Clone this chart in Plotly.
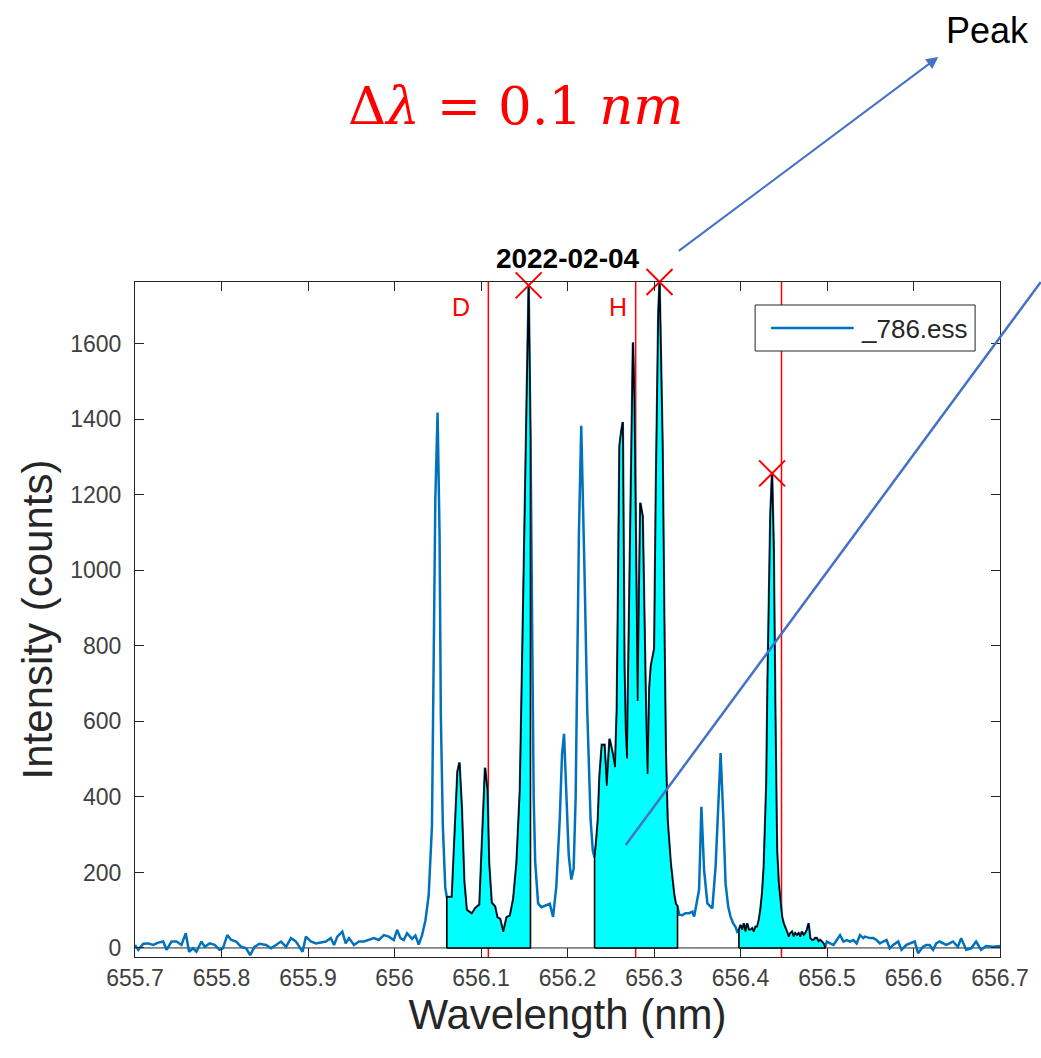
import plotly.graph_objects as go

# ---------------- data ----------------
wavelength = [
    655.7000, 655.7038, 655.7096, 655.7153, 655.7211, 655.7268, 655.7326, 655.7365, 655.7422, 655.7480,
    655.7537, 655.7587, 655.7625, 655.7671, 655.7710, 655.7768, 655.7806, 655.7863, 655.7921, 655.7978,
    655.8016, 655.8067, 655.8113, 655.8170, 655.8228, 655.8285, 655.8331, 655.8381, 655.8438, 655.8516,
    655.8573, 655.8631, 655.8688, 655.8746, 655.8803, 655.8861, 655.8899, 655.8937, 655.8976, 655.9033,
    655.9091, 655.9148, 655.9206, 655.9264, 655.9301, 655.9339, 655.9397, 655.9436, 655.9474, 655.9532,
    655.9589, 655.9647, 655.9704, 655.9762, 655.9819, 655.9877, 655.9934, 655.9992, 656.0030, 656.0069,
    656.0107, 656.0145, 656.0203, 656.0242, 656.0280, 656.0318, 656.0357, 656.0395, 656.0433, 656.0452,
    656.0472, 656.0498, 656.0521, 656.0536, 656.0559, 656.0587, 656.0605, 656.0663, 656.0702, 656.0728,
    656.0751, 656.0778, 656.0806, 656.0835, 656.0893, 656.0936, 656.0982, 656.1008, 656.1047, 656.1074,
    656.1093, 656.1123, 656.1162, 656.1189, 656.1220, 656.1258, 656.1296, 656.1335, 656.1373, 656.1411,
    656.1450, 656.1480, 656.1507, 656.1534, 656.1551, 656.1572, 656.1591, 656.1609, 656.1626, 656.1660,
    656.1698, 656.1738, 656.1795, 656.1833, 656.1871, 656.1910, 656.1937, 656.1960, 656.1986, 656.2014,
    656.2044, 656.2071, 656.2094, 656.2113, 656.2132, 656.2159, 656.2178, 656.2198, 656.2228, 656.2267,
    656.2293, 656.2313, 656.2331, 656.2351, 656.2370, 656.2397, 656.2428, 656.2454, 656.2486, 656.2504,
    656.2524, 656.2550, 656.2570, 656.2581, 656.2601, 656.2619, 656.2639, 656.2658, 656.2673, 656.2688,
    656.2702, 656.2716, 656.2742, 656.2757, 656.2773, 656.2792, 656.2811, 656.2826, 656.2842, 656.2869,
    656.2888, 656.2907, 656.2926, 656.2946, 656.2964, 656.2984, 656.3003, 656.3022, 656.3050, 656.3064,
    656.3082, 656.3099, 656.3119, 656.3137, 656.3157, 656.3194, 656.3234, 656.3252, 656.3272, 656.3291,
    656.3329, 656.3364, 656.3406, 656.3444, 656.3464, 656.3490, 656.3521, 656.3548, 656.3579, 656.3617,
    656.3651, 656.3674, 656.3712, 656.3743, 656.3770, 656.3801, 656.3827, 656.3858, 656.3885, 656.3916,
    656.3942, 656.3962, 656.3982, 656.4000, 656.4020, 656.4039, 656.4058, 656.4077, 656.4097, 656.4115,
    656.4135, 656.4154, 656.4173, 656.4192, 656.4212, 656.4230, 656.4250, 656.4269, 656.4284, 656.4299,
    656.4313, 656.4327, 656.4345, 656.4365, 656.4384, 656.4403, 656.4422, 656.4442, 656.4460, 656.4480,
    656.4499, 656.4518, 656.4537, 656.4557, 656.4575, 656.4595, 656.4614, 656.4633, 656.4652, 656.4672,
    656.4690, 656.4710, 656.4730, 656.4748, 656.4768, 656.4787, 656.4806, 656.4825, 656.4845, 656.4863,
    656.4883, 656.4902, 656.4921, 656.4940, 656.4960, 656.4978, 656.4998, 656.5036, 656.5075, 656.5113,
    656.5151, 656.5190, 656.5228, 656.5266, 656.5305, 656.5343, 656.5381, 656.5420, 656.5438, 656.5496,
    656.5535, 656.5573, 656.5611, 656.5650, 656.5688, 656.5726, 656.5765, 656.5823, 656.5861, 656.5918,
    656.5956, 656.6014, 656.6053, 656.6110, 656.6148, 656.6186, 656.6226, 656.6263, 656.6301, 656.6341,
    656.6379, 656.6417, 656.6456, 656.6513, 656.6551, 656.6609, 656.6666, 656.6724, 656.6781, 656.6839,
    656.6916, 656.7000,
]
intensity = [
    8, -5, 11, 12, 8, 14, 17, -5, 17, 17,
    8, 39, -10, -1, -10, 17, 3, 12, 8, -5,
    -1, 34, 21, 17, 3, -1, -19, 3, 11, 8,
    -1, 8, 17, 3, 26, 17, 3, -10, 30, 17,
    12, 14, 17, 26, 8, 30, 43, 12, 26, 8,
    17, 17, 21, 26, 21, 34, 30, 21, 48, 26,
    21, 39, 24, 33, 9, 33, 72, 139, 322, 707,
    1189, 1418, 1093, 612, 323, 159, 135, 135, 323, 467,
    491, 371, 177, 101, 91, 106, 115, 274, 477, 419,
    226, 120, 110, 81, 77, 43, 81, 86, 130, 226,
    419, 804, 1189, 1478, 1755, 1350, 800, 400, 230, 118,
    108, 111, 117, 82, 164, 339, 514, 567, 397, 246,
    181, 210, 397, 747, 1097, 1383, 1213, 980, 630, 339,
    257, 240, 281, 339, 456, 538, 538, 430, 554, 538,
    514, 479, 630, 863, 1330, 1364, 1393, 747, 572, 502,
    747, 980, 1446, 1604, 1446, 1097, 654, 922, 1179, 1143,
    863, 630, 461, 689, 747, 771, 793, 1213, 1679, 1764,
    1563, 1330, 863, 514, 339, 223, 140, 117, 110, 88,
    87, 92, 92, 96, 83, 118, 154, 374, 207, 118,
    110, 105, 215, 392, 516, 348, 171, 109, 83, 65,
    56, 43, 48, 61, 48, 65, 43, 65, 48, 48,
    52, 43, 56, 56, 74, 101, 145, 215, 330, 436,
    701, 878, 1143, 1257, 1054, 613, 260, 171, 127, 83,
    65, 56, 43, 30, 39, 43, 30, 39, 34, 39,
    30, 43, 34, 39, 48, 65, 26, 21, 21, 26,
    26, 17, 21, 17, 12, 3, 17, 12, 8, 21,
    34, 17, 21, 17, 21, 12, 34, 26, 30, 26,
    26, 21, 12, 17, 21, -1, 8, 17, -5, 8,
    12, 17, -14, 3, 8, 8, -5, 12, 17, 12,
    8, 12, 17, 3, 26, -5, -1, 17, -5, 5,
    3, 5,
]

series_name = "_786.ess"
chart_title = "2022-02-04"

fill_start = [656.0605, 656.2313, 656.3982]
fill_end = [656.1572, 656.3272, 656.4978]

ref_lines = [656.1085, 656.2788, 656.4474]
ref_labels = ["D", "H"]
ref_label_x = [656.0763, 656.2581]
ref_label_y = 1698

x_ticks = [655.7, 655.8, 655.9, 656.0, 656.1, 656.2, 656.3, 656.4, 656.5, 656.6, 656.7]
x_ticktext = ["655.7", "655.8", "655.9", "656", "656.1", "656.2", "656.3", "656.4", "656.5", "656.6", "656.7"]
y_ticks = [0, 200, 400, 600, 800, 1000, 1200, 1400, 1600]

x_range = [655.7, 656.7]
y_range = [-24, 1764]

# ---------------- figure ----------------
AX = "#262626"
BLUE = "#0072BD"
L, T, PW, PH = 135, 282, 869, 675   # plot area in pixels


def px(x):
    return (x - L) / PW


def py(y):
    return (T + PH - y) / PH


fig = go.Figure()

# main spectrum
fig.add_trace(go.Scatter(
    x=wavelength, y=intensity, mode="lines", name=series_name,
    line=dict(color=BLUE, width=2.5), showlegend=False,
))

# filled (integrated) regions
peak_x, peak_y = [], []
for a, b in zip(fill_start, fill_end):
    xs = [w for w in wavelength if a - 1e-9 <= w <= b + 1e-9]
    ys = [v for w, v in zip(wavelength, intensity) if a - 1e-9 <= w <= b + 1e-9]
    pxs = [xs[0]] + xs + [xs[-1], xs[0]]
    pys = [0] + ys + [0, 0]
    fig.add_trace(go.Scatter(
        x=pxs, y=pys, mode="lines", fill="toself", fillcolor="#00FFFF",
        line=dict(color="black", width=1.6), showlegend=False, hoverinfo="skip",
    ))
    k = max(range(len(ys)), key=lambda i: ys[i])
    peak_x.append(xs[k])
    peak_y.append(ys[k])

# peak markers
fig.add_trace(go.Scatter(
    x=peak_x, y=peak_y, mode="markers", showlegend=False, cliponaxis=False,
    marker=dict(symbol="x-thin", size=26, color="red", line=dict(color="red", width=2)),
))

# reference vertical lines
for v in ref_lines:
    fig.add_shape(type="line", xref="x", yref="paper", x0=v, x1=v, y0=0, y1=1,
                  line=dict(color="#FF0000", width=1.5), layer="below")

# baseline at zero
fig.add_shape(type="line", xref="paper", yref="y", x0=0, x1=1, y0=0, y1=0,
              line=dict(color=AX, width=1), layer="below")

for lab, lx in zip(ref_labels, ref_label_x):
    fig.add_annotation(x=lx, y=ref_label_y, xref="x", yref="y", text=lab, showarrow=False,
                       xanchor="center", yanchor="middle",
                       font=dict(family="Liberation Sans, Arial", size=25, color="#FF0000"))

# legend box (drawn explicitly to match the MATLAB legend size)
fig.add_shape(type="rect", xref="paper", yref="paper",
              x0=px(758), x1=px(979), y0=py(351), y1=py(305),
              line=dict(color=AX, width=1), fillcolor="white", layer="above")
fig.add_shape(type="line", xref="paper", yref="paper",
              x0=px(774), x1=px(857), y0=py(328), y1=py(328),
              line=dict(color=BLUE, width=2.5), layer="above")
fig.add_annotation(xref="paper", yref="paper", x=px(862), y=py(329),
                   xanchor="left", yanchor="middle", text=series_name, showarrow=False,
                   font=dict(family="Liberation Sans, Arial", size=26, color=AX))

# outside annotations
fig.add_annotation(xref="paper", yref="paper", x=px(518), y=py(105),
                   xanchor="center", yanchor="middle",
                   text="Δ<i>λ</i>\u00a0=\u00a00.1\u00a0<i>nm</i>", showarrow=False,
                   font=dict(family="DejaVu Serif", size=53, color="#FF0000"))
fig.add_annotation(xref="paper", yref="paper", x=px(991), y=py(30),
                   xanchor="center", yanchor="middle",
                   text="Peak", showarrow=False,
                   font=dict(family="Liberation Sans, Arial", size=36, color="black"))
fig.add_annotation(xref="paper", yref="paper", x=px(942), y=py(57),
                   axref="pixel", ayref="pixel", ax=681 - 942, ay=252 - 57,
                   text="", showarrow=True, arrowhead=2, arrowsize=1.2, arrowwidth=2,
                   arrowcolor="#4472C4")
fig.add_shape(type="line", xref="paper", yref="paper",
              x0=px(628), y0=py(845), x1=px(1045), y1=py(282),
              line=dict(color="#4472C4", width=2.5), layer="above")

fig.update_layout(
    width=1041, height=1058,
    margin=dict(l=L, r=1041 - L - PW, t=T, b=1058 - T - PH),
    paper_bgcolor="white", plot_bgcolor="white",
    font=dict(family="Liberation Sans, Arial", color=AX),
    title=dict(text="<b>" + chart_title + "</b>", x=0.5, xref="paper",
               y=1 - 258 / 1058, yref="container", yanchor="middle",
               font=dict(size=28, color="black")),
    showlegend=False,
)
fig.update_xaxes(
    range=x_range, tickvals=x_ticks, ticktext=x_ticktext,
    ticks="inside", ticklen=9, tickwidth=1, tickcolor=AX,
    showline=True, linecolor=AX, linewidth=1, mirror="ticks",
    showgrid=False, zeroline=False,
    tickfont=dict(size=23, color="#404040"),
    title=dict(text="Wavelength (nm)", font=dict(size=42, color=AX), standoff=10),
)
fig.update_yaxes(
    range=y_range, tickvals=y_ticks,
    ticks="inside", ticklen=9, tickwidth=1, tickcolor=AX,
    showline=True, linecolor=AX, linewidth=1, mirror="ticks",
    showgrid=False, zeroline=False,
    tickfont=dict(size=23, color="#404040"), ticklabelstandoff=8,
    title=dict(text="Intensity (counts)", font=dict(size=42, color=AX), standoff=4),
)

fig.write_html("out.html")
